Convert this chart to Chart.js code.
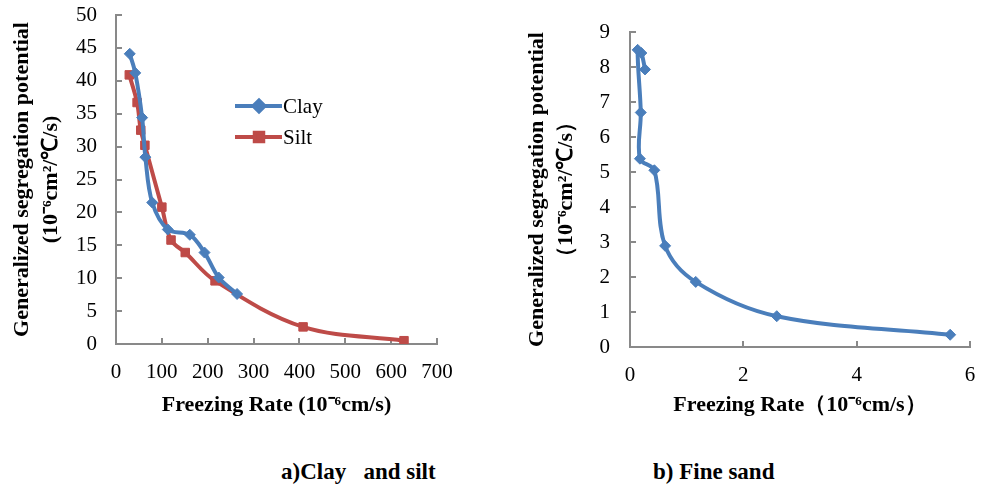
<!DOCTYPE html>
<html>
<head>
<meta charset="utf-8">
<script src="https://cdn.jsdelivr.net/npm/chart.js@4.4.1/dist/chart.umd.min.js"></script>
<style>
    body { margin: 0; background: #fff; width: 987px; height: 489px; overflow: hidden; position: relative; }
    canvas { position: absolute; top: 0; }
    #chartA { left: 0; }
    #chartB { left: 500px; }
    .caption { position: absolute; top: 459px; font: bold 23px "Liberation Serif", serif; white-space: pre; color: #000; }
</style>
</head>
<body>
<canvas id="chartA" width="480" height="440"></canvas>
<canvas id="chartB" width="487" height="440"></canvas>
<div class="caption" style="left:281px">a)Clay   and silt</div>
<div class="caption" style="left:653px">b) Fine sand</div>
<script>
// a) clay and silt
const CLAY_RATE = [30, 42, 57, 64, 79, 113, 161, 193, 224, 264];
const CLAY_SP = [44.1, 41.2, 34.4, 28.4, 21.5, 17.4, 16.6, 13.9, 10.1, 7.6];
const SILT_RATE = [29, 46, 54, 63, 100, 120, 151, 216, 408, 628];
const SILT_SP = [40.9, 36.7, 32.5, 30.2, 20.8, 15.8, 13.9, 9.6, 2.6, 0.5];
// b) fine sand
const SAND_RATE = [0.265, 0.2, 0.135, 0.19, 0.175, 0.43, 0.62, 1.16, 2.59, 5.65];
const SAND_SP = [7.93, 8.4, 8.49, 6.7, 5.38, 5.05, 2.89, 1.86, 0.88, 0.35];

const BLUE = '#4a7ebb';
const RED = '#be4b48';
const AXIS = '#898989';
const SERIF = '"Liberation Serif", "Times New Roman", serif';

function toPoints(xs, ys) {
    return xs.map((x, i) => ({ x: x, y: ys[i] }));
}

// Excel style tick marks pointing into the plot
const innerTicks = {
    id: 'innerTicks',
    beforeDatasetsDraw(chart) {
        const ctx = chart.ctx;
        const area = chart.chartArea;
        ctx.save();
        ctx.strokeStyle = AXIS;
        ctx.lineWidth = 2;
        ctx.beginPath();
        chart.scales.x.ticks.forEach(t => {
            const px = Math.round(chart.scales.x.getPixelForValue(t.value));
            ctx.moveTo(px, area.bottom);
            ctx.lineTo(px, area.bottom - 6);
        });
        chart.scales.y.ticks.forEach(t => {
            const py = Math.round(chart.scales.y.getPixelForValue(t.value));
            ctx.moveTo(area.left, py);
            ctx.lineTo(area.left + 6, py);
        });
        ctx.stroke();
        ctx.restore();
    }
};

// legend drawn inside the plot, like the original
const innerLegend = {
    id: 'innerLegend',
    afterDraw(chart, args, opts) {
        if (!opts.show) return;
        const ctx = chart.ctx;
        ctx.save();
        chart.data.datasets.forEach((ds, i) => {
            const y = opts.y + i * opts.gap;
            ctx.strokeStyle = ds.borderColor;
            ctx.lineWidth = ds.borderWidth;
            ctx.beginPath();
            ctx.moveTo(opts.x, y);
            ctx.lineTo(opts.x + 47, y);
            ctx.stroke();
            ctx.fillStyle = ds.pointBackgroundColor;
            ctx.strokeStyle = ds.pointBorderColor;
            Chart.helpers.drawPoint(ctx, { pointStyle: ds.pointStyle, radius: ds.pointRadius, borderWidth: 1 }, opts.x + 24, y);
            ctx.fillStyle = '#000';
            ctx.font = '21px ' + SERIF;
            ctx.textBaseline = 'middle';
            ctx.fillText(ds.label, opts.x + 48, y + 1);
        });
        ctx.restore();
    }
};

function series(label, data, color, style, radius) {
    return {
        label: label,
        data: data,
        showLine: true,
        tension: 0.35,
        borderColor: color,
        borderWidth: 4,
        pointStyle: style,
        pointRadius: radius,
        pointBackgroundColor: color,
        pointBorderColor: color,
        pointBorderWidth: 1
    };
}

function axis(min, max, step, title, titlePad, labelPad, fitSize, horizontal) {
    return {
        type: 'linear',
        min: min,
        max: max,
        ticks: { stepSize: step, color: '#000', padding: labelPad, font: { family: SERIF, size: 21 } },
        grid: { display: false, drawTicks: false },
        border: { display: true, color: AXIS, width: 2 },
        title: {
            display: true,
            text: title,
            color: '#000',
            font: { family: SERIF, size: 22, weight: 'bold', lineHeight: 1.32 },
            padding: titlePad
        },
        afterFit: (scale) => {
            // plot area is fixed by layout padding, not by label overhang
            scale.paddingTop = 0;
            scale.paddingBottom = 0;
            scale.paddingLeft = 0;
            scale.paddingRight = 0;
            if (horizontal) {
                scale.height = fitSize;
            } else {
                scale.width = fitSize;
            }
        }
    };
}

function makeChart(canvas, datasets, xAxis, yAxis, padding, legend) {
    return new Chart(document.getElementById(canvas).getContext('2d'), {
        type: 'scatter',
        data: { datasets: datasets },
        options: {
            responsive: false,
            animation: false,
            devicePixelRatio: 1,
            layout: { padding: padding },
            plugins: {
                legend: { display: false },
                tooltip: { enabled: false },
                innerLegend: legend
            },
            scales: { x: xAxis, y: yAxis }
        },
        plugins: [innerTicks, innerLegend]
    });
}

makeChart('chartA',
    [
        series('Clay', toPoints(CLAY_RATE, CLAY_SP), BLUE, 'rectRot', 5.5),
        series('Silt', toPoints(SILT_RATE, SILT_SP), RED, 'rect', 6)
    ],
    axis(0, 700, 100, 'Freezing Rate (10\u207B\u2076cm/s)', { bottom: 20 }, 16, 96, true),
    axis(0, 50, 5, ['Generalized segregation potential', '(10\u207B\u2076cm\u00B2/\u2103/s)'], { top: 8 }, 19, 116, false),
    { left: 0, top: 15, right: 43, bottom: 0 },
    { show: true, x: 235, y: 106, gap: 31 }
);

makeChart('chartB',
    [
        series('Fine sand', toPoints(SAND_RATE, SAND_SP), BLUE, 'rectRot', 5.5)
    ],
    axis(0, 6, 2, 'Freezing Rate\uFF0810\u207B\u2076cm/s\uFF09', { bottom: 20 }, 16, 93, true),
    axis(0, 9, 1, ['Generalized segregation potential', '\uFF0810\u207B\u2076cm\u00B2/\u2103/s\uFF09'], { top: 23 }, 20, 130, false),
    { left: 0, top: 32, right: 17, bottom: 0 },
    { show: false }
);
</script>
</body>
</html>
